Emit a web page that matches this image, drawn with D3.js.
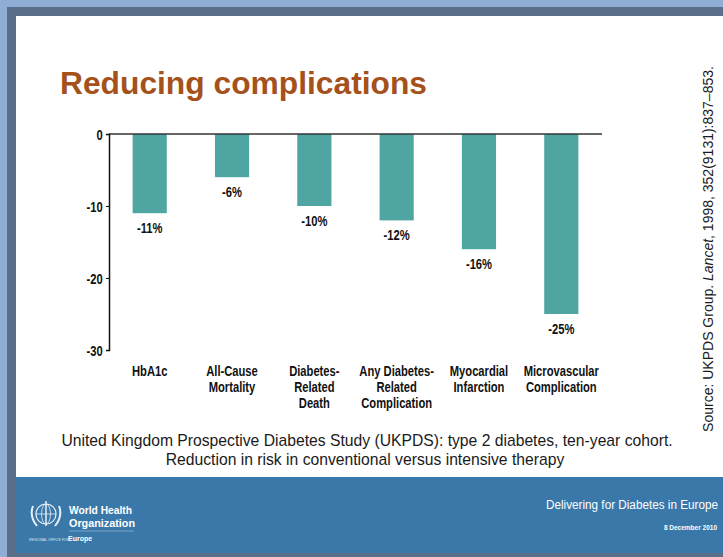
<!DOCTYPE html>
<html><head><meta charset="utf-8">
<script src="https://cdn.jsdelivr.net/npm/d3@7"></script>
<style>
html,body{margin:0;padding:0;background:#8fadd5;}
svg{display:block;}
.cond{font-family:"Liberation Sans",Arial,sans-serif;font-weight:bold;}
</style></head>
<body>
<svg id="c" width="723" height="557"></svg>
<script>
const categories = [["HbA1c"],["All-Cause","Mortality"],["Diabetes-","Related","Death"],["Any Diabetes-","Related","Complication"],["Myocardial","Infarction"],["Microvascular","Complication"]];
const values = [-11,-6,-10,-12,-16,-25];
const valueLabels = ["-11%","-6%","-10%","-12%","-16%","-25%"];
const yTicks = [0,-10,-20,-30];

const SX = 0.8; // horizontal condensing of chart labels
const svg = d3.select("#c");
// frame
svg.append("rect").attr("x",0).attr("y",0).attr("width",723).attr("height",557).attr("fill","#8fadd5");
svg.append("rect").attr("x",7).attr("y",7).attr("width",716).attr("height",550).attr("fill","#5c6f8a");
svg.append("rect").attr("x",16).attr("y",16).attr("width",707).attr("height",461).attr("fill","#ffffff");
svg.append("rect").attr("x",16).attr("y",477).attr("width",707).attr("height",76).attr("fill","#3978a9");

// title
svg.append("text").attr("x",60).attr("y",94).attr("fill","#a4511b")
  .attr("font-family","Liberation Sans, Arial, sans-serif").attr("font-weight","bold")
  .attr("font-size",31).attr("textLength",367).attr("lengthAdjust","spacingAndGlyphs").text("Reducing complications");

const x = d3.scaleBand().domain(d3.range(values.length)).range([109,602]).paddingInner(0.585).paddingOuter(0.287);
const y = d3.scaleLinear().domain([0,-30]).range([134,350]);

const g = svg.append("g");
g.selectAll("rect.bar").data(values).join("rect").attr("class","bar")
  .attr("x",(d,i)=>x(i)).attr("width",x.bandwidth())
  .attr("y",y(0)).attr("height",d=>y(d)-y(0)).attr("fill","#4fa5a2");

// zero line
g.append("line").attr("x1",109).attr("x2",602).attr("y1",y(0)).attr("y2",y(0)).attr("stroke","#333").attr("stroke-width",1.5);
// y axis
const yAxis = d3.axisLeft(y).tickValues(yTicks).tickSize(3).tickFormat(d=>String(d));
const ya = g.append("g").attr("transform","translate(109,0)").call(yAxis);
ya.attr("font-family",null).attr("font-size",null);
ya.select(".domain").attr("stroke","#111").attr("stroke-width",1.5);
ya.selectAll(".tick line").attr("stroke","#111");
ya.selectAll(".tick text").attr("class","cond").attr("font-size",14).attr("fill","#111")
  .attr("x",-8).attr("dy","0.36em").attr("transform",`scale(${SX},1)`);

// value labels
g.selectAll("text.val").data(values).join("text").attr("class","val cond")
  .attr("transform",(d,i)=>`translate(${x(i)+x.bandwidth()/2},${y(d)+20}) scale(${SX},1)`)
  .attr("text-anchor","middle").attr("font-size",14).attr("fill","#111")
  .text((d,i)=>valueLabels[i]);

// category labels
const cl = g.selectAll("text.cat").data(categories).join("text").attr("class","cat cond")
  .attr("text-anchor","middle").attr("font-size",14).attr("fill","#111")
  .attr("transform",(d,i)=>`translate(${x(i)+x.bandwidth()/2},376) scale(${SX},1)`);
cl.selectAll("tspan").data(d=>d).join("tspan").attr("x",0).attr("dy",(d,j)=>j===0?0:16).text(d=>d);

// caption
const cap = svg.append("text").attr("font-family","Liberation Sans, Arial, sans-serif").attr("font-size",15.7).attr("fill","#1a1a1a").attr("text-anchor","middle");
cap.append("tspan").attr("x",367).attr("y",446).text("United Kingdom Prospective Diabetes Study (UKPDS): type 2 diabetes, ten-year cohort.");
cap.append("tspan").attr("x",365).attr("y",465).text("Reduction in risk in conventional versus intensive therapy");

// source
const src = svg.append("text").attr("transform","translate(713,249) rotate(-90)").attr("text-anchor","middle")
  .attr("font-family","Liberation Sans, Arial, sans-serif").attr("font-size",14).attr("fill","#1a1a1a");
src.append("tspan").text("Source: UKPDS Group. ");
src.append("tspan").attr("font-style","italic").text("Lancet");
src.append("tspan").text(", 1998, 352(9131):837–853.");

// footer
svg.append("text").attr("x",718).attr("y",509).attr("text-anchor","end").attr("fill","#fff")
  .attr("font-family","Liberation Sans, Arial, sans-serif").attr("font-size",12).attr("textLength",172).attr("lengthAdjust","spacingAndGlyphs").text("Delivering for Diabetes in Europe");
svg.append("text").attr("x",717).attr("y",530).attr("text-anchor","end").attr("fill","#fff")
  .attr("font-family","Liberation Sans, Arial, sans-serif").attr("font-weight","bold").attr("font-size",6.5).text("8 December 2010");
// WHO logo
const logo = svg.append("g").attr("transform","translate(46,514)").attr("fill","none").attr("stroke","#e8eef5");
logo.append("circle").attr("r",10).attr("stroke-width",1.2);
logo.append("ellipse").attr("rx",4.5).attr("ry",10).attr("stroke-width",0.8);
logo.append("line").attr("x1",-10).attr("x2",10).attr("stroke-width",0.8);
logo.append("path").attr("d","M-13,-8 Q-17,2 -9,12 M13,-8 Q17,2 9,12").attr("stroke-width",2);
logo.append("line").attr("x1",0).attr("x2",0).attr("y1",-13).attr("y2",12).attr("stroke-width",1.5);
svg.append("text").attr("x",69).attr("y",514).attr("fill","#fff").attr("font-family","Liberation Sans, sans-serif").attr("font-weight","bold").attr("font-size",11.5).attr("textLength",63).attr("lengthAdjust","spacingAndGlyphs").text("World Health");
svg.append("text").attr("x",69).attr("y",527).attr("fill","#fff").attr("font-family","Liberation Sans, sans-serif").attr("font-weight","bold").attr("font-size",11.5).attr("textLength",66).attr("lengthAdjust","spacingAndGlyphs").text("Organization");
svg.append("line").attr("x1",69).attr("x2",134).attr("y1",531).attr("y2",531).attr("stroke","#a9c3dc").attr("stroke-width",0.6);
svg.append("text").attr("x",29).attr("y",541).attr("fill","#dfe8f2").attr("font-family","Liberation Sans, sans-serif").attr("font-size",3.5).text("REGIONAL OFFICE FOR");
svg.append("text").attr("x",68).attr("y",541).attr("fill","#fff").attr("font-family","Liberation Sans, sans-serif").attr("font-weight","bold").attr("font-size",7).text("Europe");
</script>
</body></html>
